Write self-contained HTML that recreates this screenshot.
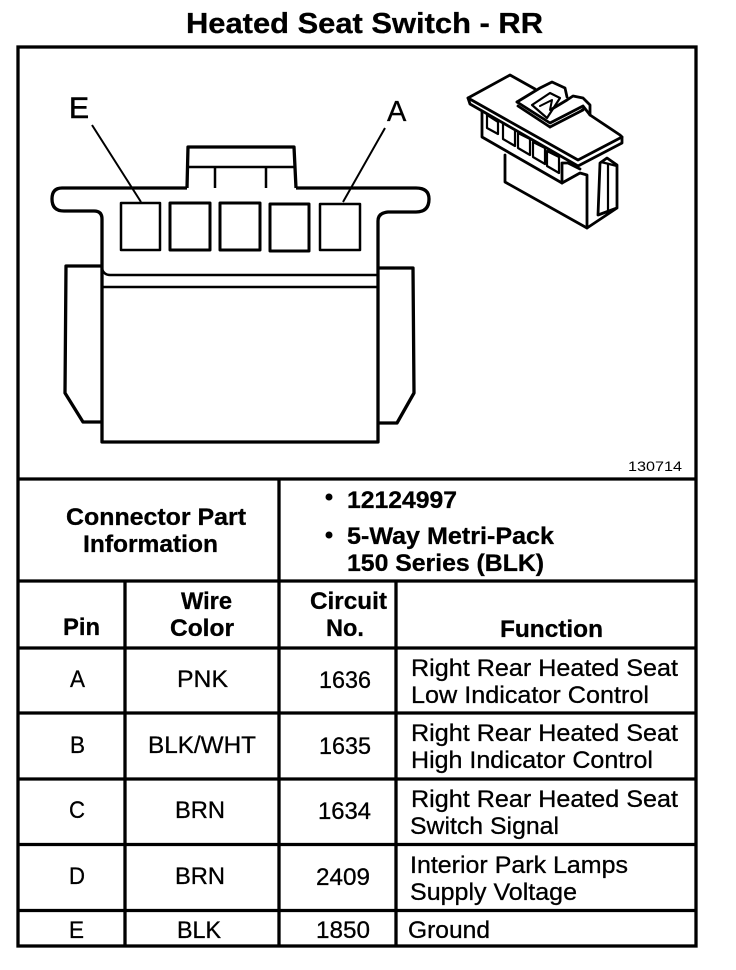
<!DOCTYPE html>
<html>
<head>
<meta charset="utf-8">
<style>
html,body{margin:0;padding:0;background:#fff}
svg{display:block}
text{font-family:"Liberation Sans",sans-serif;fill:#000;stroke:#000}
.b{font-weight:bold;font-size:24px;stroke-width:.3}
.r{font-size:24px;stroke-width:.3}
</style>
</head>
<body>
<svg width="736" height="970" viewBox="0 0 736 970" xmlns="http://www.w3.org/2000/svg">
<rect width="736" height="970" fill="#fff"/>
<text x="186" y="33" font-weight="bold" font-size="29" stroke-width=".3" textLength="357" lengthAdjust="spacingAndGlyphs">Heated Seat Switch - RR</text>

<!-- table lines -->
<g stroke="#000" stroke-width="3.3" fill="none">
<rect x="18" y="47" width="678" height="899"/>
<path d="M18 479H696M18 581H696M18 648H696M18 713H696M18 779H696M18 844.500H696M18 910.500H696"/>
<path d="M279 479V581M125 581V946M279 581V946M396 581V946"/>
</g>

<!-- front connector -->
<g stroke="#000" stroke-width="3.3" fill="none" stroke-linejoin="round">
<path d="M187 188L188 147H294L296 188"/>
<path d="M188 167H295M215 167V188M266 167V188" stroke-width="2.5"/>
<path d="M187 188H62Q52 188 52 199Q52 211 64 211H94Q102 211 102 219V442H378V221Q378 213 388 212H416Q429 212 429 199Q429 188 416 188H296"/>
<rect x="121" y="203" width="39" height="47" stroke-width="2.5"/>
<rect x="170" y="203" width="40" height="47" stroke-width="3"/>
<rect x="220" y="203" width="40" height="47" stroke-width="3"/>
<rect x="270" y="204" width="39" height="47" stroke-width="3"/>
<rect x="320" y="204" width="40" height="46" stroke-width="2.5"/>
<path d="M102 269Q104 275 110 275H378" stroke-width="2.5"/>
<path d="M102 287H378" stroke-width="2.5"/>
<path d="M102 266H66L65 393L83 422H102"/>
<path d="M378 268H413L414 393L397 423H378"/>
<path d="M92 125L141 202M385 128L343 202" stroke-width="2"/>
</g>
<text x="69" y="118" font-size="30" stroke-width=".6">E</text>
<text x="387" y="121" font-size="29" stroke-width=".3">A</text>

<!-- isometric connector -->
<g stroke="#000" stroke-width="2.8" fill="none" stroke-linejoin="round" stroke-linecap="round">
<path d="M535 89L510 75L468 98L578 160L622 137L620 135L590 115"/>
<path d="M468 98L470 104L578 166L622 143V137"/>
<path d="M517 102L540 88L552 82L565 88L567 97"/>
<path d="M517 102L550 123L583 106L590 115V105L583 98L573 96L567 100L552 109"/>
<path d="M518 106L550 127"/>
<path d="M532 105L550 93L560 98L547 118Z" stroke-width="2.2"/>
<path d="M540 106L552 100L550 110" stroke-width="2"/>
<path d="M550 127L583 110"/>
<path d="M578 113L584 108" stroke-width="2"/>
<path d="M482 111V137L562 183V163"/>
<path d="M487 115L498 122V134L487 128Z" stroke-width="2.2"/>
<path d="M503 123L515 130V146L503 139Z" stroke-width="2.2"/>
<path d="M518 133L530 139V155L518 148Z" stroke-width="2.2"/>
<path d="M533 142L545 148V164L533 157Z" stroke-width="2.2"/>
<path d="M547 151L559 157V173L547 166Z" stroke-width="2.2"/>
<path d="M505 155V182L587 228L617 208V165L607 158L600 163L598 215L617 208"/>
<path d="M562 183L580 173L587 175V228"/>
<path d="M563 163H568L580 169"/>
<path d="M601 162L617 166M608 165V213" stroke-width="2.2"/>
</g>
<text x="628" y="471" font-size="14" style="stroke:none" textLength="54" lengthAdjust="spacingAndGlyphs">130714</text>

<!-- header -->
<text x="66" y="525" class="b" textLength="180" lengthAdjust="spacingAndGlyphs">Connector Part</text>
<text x="83" y="552" class="b" textLength="135" lengthAdjust="spacingAndGlyphs">Information</text>
<circle cx="329" cy="497" r="3.5"/>
<circle cx="329" cy="535" r="3.5"/>
<text x="347" y="508" class="b" textLength="110" lengthAdjust="spacingAndGlyphs">12124997</text>
<text x="347" y="544" class="b" textLength="207" lengthAdjust="spacingAndGlyphs">5-Way Metri-Pack</text>
<text x="347" y="571" class="b" textLength="197" lengthAdjust="spacingAndGlyphs">150 Series (BLK)</text>

<text x="63" y="635" class="b" textLength="37" lengthAdjust="spacingAndGlyphs">Pin</text>
<text x="181" y="609" class="b" textLength="51" lengthAdjust="spacingAndGlyphs">Wire</text>
<text x="170" y="636" class="b" textLength="64" lengthAdjust="spacingAndGlyphs">Color</text>
<text x="310" y="609" class="b" textLength="77" lengthAdjust="spacingAndGlyphs">Circuit</text>
<text x="326" y="636" class="b" textLength="38" lengthAdjust="spacingAndGlyphs">No.</text>
<text x="500" y="637" class="b" textLength="103" lengthAdjust="spacingAndGlyphs">Function</text>

<text x="70" y="687" class="r" textLength="15" lengthAdjust="spacingAndGlyphs">A</text>
<text x="177" y="687" class="r" textLength="51" lengthAdjust="spacingAndGlyphs">PNK</text>
<text x="319" y="688" class="r" textLength="52" lengthAdjust="spacingAndGlyphs">1636</text>
<text x="411" y="676" class="r" textLength="267" lengthAdjust="spacingAndGlyphs">Right Rear Heated Seat</text>
<text x="411" y="703" class="r" textLength="238" lengthAdjust="spacingAndGlyphs">Low Indicator Control</text>

<text x="70" y="753" class="r" textLength="15" lengthAdjust="spacingAndGlyphs">B</text>
<text x="148" y="753" class="r" textLength="108" lengthAdjust="spacingAndGlyphs">BLK/WHT</text>
<text x="319" y="754" class="r" textLength="52" lengthAdjust="spacingAndGlyphs">1635</text>
<text x="411" y="741" class="r" textLength="267" lengthAdjust="spacingAndGlyphs">Right Rear Heated Seat</text>
<text x="411" y="768" class="r" textLength="242" lengthAdjust="spacingAndGlyphs">High Indicator Control</text>

<text x="69" y="818" class="r" textLength="16" lengthAdjust="spacingAndGlyphs">C</text>
<text x="175" y="818" class="r" textLength="50" lengthAdjust="spacingAndGlyphs">BRN</text>
<text x="318" y="819" class="r" textLength="53" lengthAdjust="spacingAndGlyphs">1634</text>
<text x="411" y="807" class="r" textLength="267" lengthAdjust="spacingAndGlyphs">Right Rear Heated Seat</text>
<text x="410" y="834" class="r" textLength="149" lengthAdjust="spacingAndGlyphs">Switch Signal</text>

<text x="69" y="884" class="r" textLength="16" lengthAdjust="spacingAndGlyphs">D</text>
<text x="175" y="884" class="r" textLength="50" lengthAdjust="spacingAndGlyphs">BRN</text>
<text x="316" y="885" class="r" textLength="54" lengthAdjust="spacingAndGlyphs">2409</text>
<text x="410" y="873" class="r" textLength="218" lengthAdjust="spacingAndGlyphs">Interior Park Lamps</text>
<text x="410" y="900" class="r" textLength="167" lengthAdjust="spacingAndGlyphs">Supply Voltage</text>

<text x="69" y="938" class="r" textLength="15" lengthAdjust="spacingAndGlyphs">E</text>
<text x="177" y="938" class="r" textLength="44" lengthAdjust="spacingAndGlyphs">BLK</text>
<text x="316" y="938" class="r" textLength="54" lengthAdjust="spacingAndGlyphs">1850</text>
<text x="408" y="938" class="r" textLength="82" lengthAdjust="spacingAndGlyphs">Ground</text>
</svg>
</body>
</html>
